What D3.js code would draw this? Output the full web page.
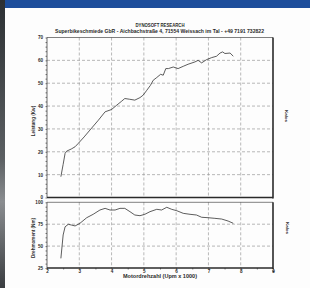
<!DOCTYPE html>
<html>
<head>
<meta charset="utf-8">
<script src="https://cdnjs.cloudflare.com/ajax/libs/d3/7.8.5/d3.min.js"></script>
<style>
  html, body { margin: 0; padding: 0; background: #fff; }
  svg { display: block; font-family: "Liberation Sans", Arial, sans-serif; }
</style>
</head>
<body>
<div id="canvas"></div>
<script>
// Leistung (kW) ueber Drehzahl (Upm x 1000)
var powerRpm = [2.43, 2.5, 2.56, 2.61, 2.75, 2.87, 2.97, 3.15, 3.33, 3.59, 3.8, 4.0, 4.16, 4.3, 4.41, 4.55, 4.72, 4.88, 4.98, 5.09, 5.2, 5.29, 5.4, 5.52, 5.6, 5.68, 5.76, 5.91, 6.06, 6.22, 6.37, 6.58, 6.68, 6.79, 6.94, 7.1, 7.25, 7.36, 7.44, 7.51, 7.67, 7.77];
var powerKw = [9.1, 14.5, 19.3, 20.3, 21.2, 22.2, 23.7, 26.5, 29.5, 33.8, 37.5, 38.5, 40.4, 42.0, 43.3, 43.0, 42.6, 43.7, 44.8, 46.9, 49.0, 51.3, 52.5, 53.9, 53.5, 56.4, 56.4, 57.1, 56.4, 57.4, 58.3, 59.3, 60.0, 58.9, 60.3, 61.2, 61.8, 63.2, 63.7, 63.0, 63.2, 61.8];

// Drehmoment (Nm) ueber Drehzahl
var torqueRpm = [2.43, 2.5, 2.56, 2.66, 2.76, 2.87, 3.02, 3.23, 3.43, 3.64, 3.8, 3.95, 4.11, 4.26, 4.41, 4.57, 4.72, 4.88, 5.03, 5.19, 5.4, 5.55, 5.71, 5.86, 6.02, 6.22, 6.43, 6.63, 6.79, 6.99, 7.2, 7.41, 7.61, 7.77];
var torqueNm = [36, 62.7, 72, 74.9, 74, 73, 76, 82.4, 86.3, 91.2, 93.1, 91.2, 91.2, 93.1, 93.1, 89.3, 85.5, 84.7, 86.3, 89.3, 92, 91.2, 94.3, 92, 90.4, 87.4, 86.3, 85.5, 82.9, 82.4, 81.7, 80.9, 78.6, 76];

var xTicks = [2, 3, 4, 5, 6, 7, 8, 9];
var powerTicks = [0, 10, 20, 30, 40, 50, 60, 70];
var torqueTicks = [25, 50, 75, 100];

var width = 310, height = 288;

var svg = d3.select("#canvas").append("svg")
    .attr("width", width)
    .attr("height", height);

// Hintergrund: Papier, blauer Balken oben, dunkler Rand links
svg.append("rect").attr("width", width).attr("height", height).attr("fill", "#fdfdfd");

var defs = svg.append("defs");
var grad = defs.append("linearGradient").attr("id", "edge")
    .attr("x1", 0).attr("y1", 0).attr("x2", 0).attr("y2", 1);
grad.append("stop").attr("offset", "0%").attr("stop-color", "#2c3033");
grad.append("stop").attr("offset", "55%").attr("stop-color", "#5b5f62");
grad.append("stop").attr("offset", "70%").attr("stop-color", "#8a8d90");
grad.append("stop").attr("offset", "100%").attr("stop-color", "#3a3d40");

svg.append("rect").attr("x", 0).attr("y", 0).attr("width", width).attr("height", 8).attr("fill", "#1d4e9b");
svg.append("rect").attr("x", 0).attr("y", 0).attr("width", 5).attr("height", height).attr("fill", "url(#edge)");

// Skalen
var x = d3.scaleLinear().domain([2, 9]).range([47, 273]);
var yPow = d3.scaleLinear().domain([0, 70]).range([197.5, 37.5]);
var yTrq = d3.scaleLinear().domain([25, 100]).range([268, 202.3]);

var ink = "#2a2a2a";
var gridColor = "#9a9a9a";

// Kopfzeilen
svg.append("text")
    .attr("x", 160).attr("y", 26.5)
    .attr("text-anchor", "middle")
    .attr("font-size", 4.6).attr("font-weight", "bold").attr("fill", ink)
    .attr("textLength", 49).attr("lengthAdjust", "spacingAndGlyphs")
    .text("DYNOSOFT RESEARCH");

svg.append("text")
    .attr("x", 159.5).attr("y", 33.3)
    .attr("text-anchor", "middle")
    .attr("font-size", 4.6).attr("font-weight", "bold").attr("fill", ink)
    .attr("textLength", 209).attr("lengthAdjust", "spacingAndGlyphs")
    .text("Superbikeschmiede GbR - Aichbachstraße 4, 71554 Weissach im Tal - +49 7191 732822");

function drawPanel(yScale, ticks, minorStep, top, bottom) {
    var g = svg.append("g");
    var d0 = yScale.domain();

    // vertikale Gitterlinien
    g.selectAll("line.vgrid")
        .data(xTicks.slice(1, -1))
        .enter().append("line")
        .attr("x1", function (d) { return x(d); })
        .attr("x2", function (d) { return x(d); })
        .attr("y1", top).attr("y2", bottom)
        .attr("stroke", gridColor).attr("stroke-width", 0.7)
        .style("stroke-dasharray", ("3, 2"));

    // horizontale Gitterlinien
    g.selectAll("line.hgrid")
        .data(ticks.slice(1, -1))
        .enter().append("line")
        .attr("x1", x(2)).attr("x2", x(9))
        .attr("y1", function (d) { return yScale(d); })
        .attr("y2", function (d) { return yScale(d); })
        .attr("stroke", gridColor).attr("stroke-width", 0.7)
        .style("stroke-dasharray", ("3, 2"));

    // Rahmen
    g.append("line").attr("x1", x(2)).attr("x2", x(9)).attr("y1", top).attr("y2", top)
        .attr("stroke", ink).attr("stroke-width", 0.6);
    g.append("line").attr("x1", x(2)).attr("x2", x(2)).attr("y1", top).attr("y2", bottom)
        .attr("stroke", ink).attr("stroke-width", 0.7);
    g.append("line").attr("x1", x(9)).attr("x2", x(9)).attr("y1", top).attr("y2", bottom + 1)
        .attr("stroke", ink).attr("stroke-width", 1.6);
    g.append("line").attr("x1", x(2)).attr("x2", x(9)).attr("y1", bottom).attr("y2", bottom)
        .attr("stroke", ink).attr("stroke-width", 1.6);

    // kleine Striche an der Y-Achse
    var minor = d3.range(d0[0], d0[1] + 0.01, minorStep);
    g.append("g").attr("transform", "translate(" + x(2) + ",0)")
        .call(d3.axisLeft(yScale).tickValues(minor).tickSize(1.5).tickFormat(""))
        .call(function (a) {
            a.select(".domain").remove();
            a.selectAll("line").attr("stroke", ink).attr("stroke-width", 0.6);
        });

    // Achsenbeschriftung
    g.append("g").attr("transform", "translate(" + (x(2) - 4) + ",0)")
        .call(d3.axisLeft(yScale).tickValues(ticks).tickSize(0).tickPadding(0))
        .call(function (a) {
            a.select(".domain").remove();
            a.selectAll("text")
                .attr("font-size", 4.6).attr("font-weight", "bold")
                .attr("fill", ink).attr("font-family", "Liberation Sans, Arial, sans-serif");
        });
    return g;
}

var upper = drawPanel(yPow, powerTicks, 2, 37.5, 197.5);
var lower = drawPanel(yTrq, torqueTicks, 5, 202.3, 268);

// X-Achse unten
svg.append("g").attr("transform", "translate(0," + 268 + ")")
    .call(d3.axisBottom(x).tickValues(d3.range(2, 9.01, 0.5)).tickSize(1.5).tickFormat(""))
    .call(function (a) {
        a.select(".domain").remove();
        a.selectAll("line").attr("stroke", ink).attr("stroke-width", 0.6);
    });
svg.append("g").attr("transform", "translate(0," + 270 + ")")
    .call(d3.axisBottom(x).tickValues(xTicks).tickSize(0).tickPadding(0).tickFormat(d3.format("d")))
    .call(function (a) {
        a.select(".domain").remove();
        a.selectAll("text")
            .attr("font-size", 4.6).attr("font-weight", "bold")
            .attr("fill", ink).attr("font-family", "Liberation Sans, Arial, sans-serif");
    });
svg.append("rect").attr("x", x(9) - 0.5).attr("y", 270.5).attr("width", 1.6).attr("height", 1.6).attr("fill", ink);

// Kurven
var line = d3.line().curve(d3.curveLinear);

upper.append("path")
    .attr("d", line(powerRpm.map(function (r, i) { return [x(r), yPow(powerKw[i])]; })))
    .attr("fill", "none").attr("stroke", "#333").attr("stroke-width", 0.8);

lower.append("path")
    .attr("d", line(torqueRpm.map(function (r, i) { return [x(r), yTrq(torqueNm[i])]; })))
    .attr("fill", "none").attr("stroke", "#333").attr("stroke-width", 0.8);

// Achsentitel
svg.append("text")
    .attr("transform", "translate(34.5,121) rotate(-90)")
    .attr("text-anchor", "middle")
    .attr("font-size", 4.6).attr("font-weight", "bold").attr("fill", ink)
    .text("Leistung (Kw)");

svg.append("text")
    .attr("transform", "translate(34.5,238) rotate(-90)")
    .attr("text-anchor", "middle")
    .attr("font-size", 4.6).attr("font-weight", "bold").attr("fill", ink)
    .attr("textLength", 40).attr("lengthAdjust", "spacingAndGlyphs")
    .text("Drehmoment (Nm)");

svg.append("text")
    .attr("x", 160).attr("y", 277.5)
    .attr("text-anchor", "middle")
    .attr("font-size", 4.6).attr("font-weight", "bold").attr("fill", ink)
    .attr("textLength", 74).attr("lengthAdjust", "spacingAndGlyphs")
    .text("Motordrehzahl (Upm x 1000)");

// rechte Beschriftungen
svg.append("text")
    .attr("transform", "translate(285,116) rotate(90)")
    .attr("text-anchor", "middle")
    .attr("font-size", 4.4).attr("font-weight", "bold").attr("fill", ink)
    .text("Kalos");

svg.append("text")
    .attr("transform", "translate(285.5,228) rotate(90)")
    .attr("text-anchor", "middle")
    .attr("font-size", 4.4).attr("font-weight", "bold").attr("fill", ink)
    .text("Kalos");
</script>
</body>
</html>
